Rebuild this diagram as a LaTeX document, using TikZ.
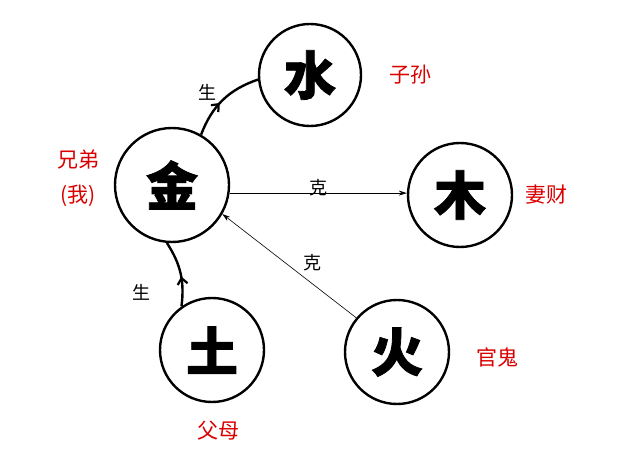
\documentclass[tikz,border=0pt]{standalone}
\usepackage{fontspec}
\newfontfamily\cjk{Noto Sans CJK SC}
\newfontfamily\cjkb{Noto Sans CJK SC Black}[FakeBold=1.5]
\usetikzlibrary{decorations.markings,arrows.meta}
\tikzstyle{element}=[circle,draw,line width=2.4pt,minimum size=104pt,inner sep=0pt,font=\cjkb\fontsize{52}{52}\selectfont]
\tikzstyle{relation}=[red!85!black,font=\cjk\fontsize{21}{21}\selectfont]
\tikzstyle{verb}=[font=\cjk\fontsize{18}{18}\selectfont]
\tikzstyle{sheng}=[line width=2.4pt,postaction={decorate},decoration={markings,mark=at position 0.45 with {\arrow{Straight Barb[length=6pt,width=10pt,line width=2.2pt]}}}]
\tikzstyle{ke}=[line width=0.6pt,-{Stealth[length=8pt,width=5pt]}]
\begin{document}
\begin{tikzpicture}[x=1pt,y=-1pt]
\useasboundingbox (0,0) rectangle (640,465);
\node[element,minimum size=114pt] (jin) at (172,185) {金};
\node[element,minimum size=102pt] (shui) at (310,75) {水};
\node[element] (mu) at (460,195) {木};
\node[element] (tu) at (212,350) {土};
\node[element] (huo) at (397,352) {火};
% labels
\node[relation] at (410,75) {子孙};
\node[relation] at (546,195) {妻财};
\node[relation] at (497,357) {官鬼};
\node[relation] at (218,431) {父母};
\node[relation] at (78,160) {兄弟};
\node[relation] at (78,196) {(我)};
% generating
\draw[sheng] (jin.60) to[bend left=25] (shui.185);
\draw[sheng] (tu.125) to[bend right=20] (jin.265);
\node[verb] at (207,92) {生};
\node[verb] at (141,292) {生};
% controlling
\draw[ke] (jin.-8) -- (mu.west |- jin.-8);
\draw[ke] (huo.140) -- (jin.-30);
\node[verb] at (318,188) {克};
\node[verb] at (312,263) {克};
\end{tikzpicture}
\end{document}
